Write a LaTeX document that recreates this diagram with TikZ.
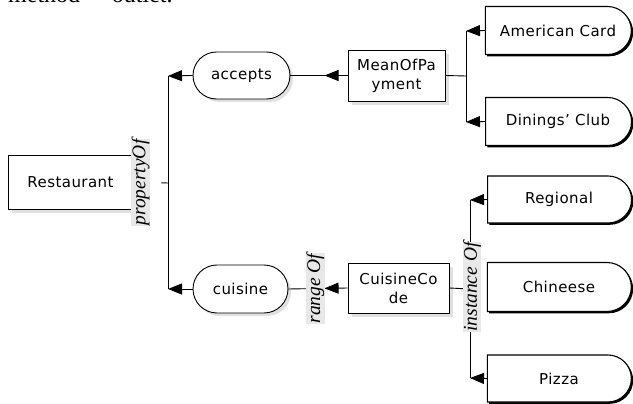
\documentclass[tikz,border=0pt]{standalone}
\usepackage{fontspec}
\setmainfont{DejaVu Sans}[LetterSpace=3]
\newfontfamily\lblfont{Liberation Serif}
\usetikzlibrary{shapes.misc,arrows.meta,shadows,calc,decorations.markings}
\begin{document}
\begin{tikzpicture}[x=1pt,y=-1pt,
  txt/.style={font=\fontsize{15}{19}\selectfont, align=center, inner sep=0pt},
  box/.style={txt, draw, line width=0.9pt, fill=white, rectangle,
    drop shadow={shadow xshift=4pt, shadow yshift=-4pt, fill=black!12, opacity=1}},
  pill/.style={txt, draw, line width=0.9pt, fill=white, rounded rectangle,
    drop shadow={shadow xshift=3pt, shadow yshift=-3pt, fill=black!12, opacity=1}},
  dnode/.style={txt, draw, line width=1.1pt, fill=white, rounded rectangle,
    rounded rectangle left arc=none,
    drop shadow={shadow xshift=1.8pt, shadow yshift=-1.8pt, fill=black, opacity=1}},
  conn/.style={draw, line width=0.9pt},
  arr/.style={conn, -{Triangle[length=14pt,width=11pt]}},
  markarr/.style={postaction={decorate}, decoration={markings,
    mark=at position 23pt with {\arrow{Triangle[length=14pt,width=11pt]}}}},
  lbl/.style={font=\lblfont\itshape\fontsize{19.5}{20}\selectfont, rotate=90,
    fill=black!9, inner sep=0.5pt}
]
\useasboundingbox (0,0) rectangle (633,404);

\begin{scope}
\clip (0,0) rectangle (633,404);
\node[anchor=base west, inner sep=0, font=\lblfont\fontsize{24}{24}\selectfont] (toptext) at (8,3) {method"\hspace{16pt} outlet.};
\end{scope}

% nodes
\node[box, minimum width=125, minimum height=54] (rest) at (70.5,182) {Restaurant};
\node[pill, minimum width=97, minimum height=47] (accepts) at (241.5,75.5) {accepts};
\node[pill, minimum width=95, minimum height=48] (cuisine) at (240.5,289) {cuisine};
\node[box, minimum width=97, minimum height=51] (mop) at (396.5,75.5) {MeanOfPa\\yment};
\node[box, minimum width=101, minimum height=50] (cc) at (398.5,288) {CuisineCo\\de};
\node[dnode, minimum width=146, minimum height=48] (amer) at (558,30.5) {American Card};
\node[dnode, minimum width=146, minimum height=48] (din) at (558,121.5) {Dinings' Club};
\node[dnode, minimum width=144, minimum height=47] (reg) at (559,199.5) {Regional};
\node[dnode, minimum width=144, minimum height=49] (chin) at (559,287) {Chineese};
\node[dnode, minimum width=144, minimum height=47] (pizza) at (559,378.5) {Pizza};

% junctions
\coordinate (jA) at (168,76);
\coordinate (jR) at (168,183);
\coordinate (jC) at (168,289);
\coordinate (jM) at (466,76);
\coordinate (jAm) at (466,31);
\coordinate (jD) at (466,122);
\coordinate (jCC) at (470,289);
\coordinate (jReg) at (470,200);
\coordinate (jP) at (470,378);

% left part
\draw[conn] (jA) -- (jC);
\draw[arr] (accepts.west) -- (jA);
\draw[arr] (cuisine.west) -- (jC);
\draw[conn, shorten <=28pt] (rest.east) -- node[lbl, yshift=10pt] {propertyOf} (jR);

% middle
\draw[conn, markarr] (mop.west) -- (accepts.east);
\draw[conn, markarr] (cc.west) -- node[lbl, pos=0.58, yshift=-2pt] {range Of} (cuisine.east);

% right part (payment)
\draw[conn] (mop.east) -- (jM);
\draw[conn] (jAm) -- (jD);
\draw[arr] (amer.west) -- (jAm);
\draw[arr] (din.west) -- (jD);

% right part (cuisine codes)
\draw[conn] (jReg) -- (jP);
\draw[arr] (reg.west) -- (jReg);
\draw[arr] (pizza.west) -- (jP);
\draw[conn] (cc.east) -- (jCC) node[lbl, xshift=2pt, yshift=-2pt] {instance Of};
\end{tikzpicture}
\end{document}
